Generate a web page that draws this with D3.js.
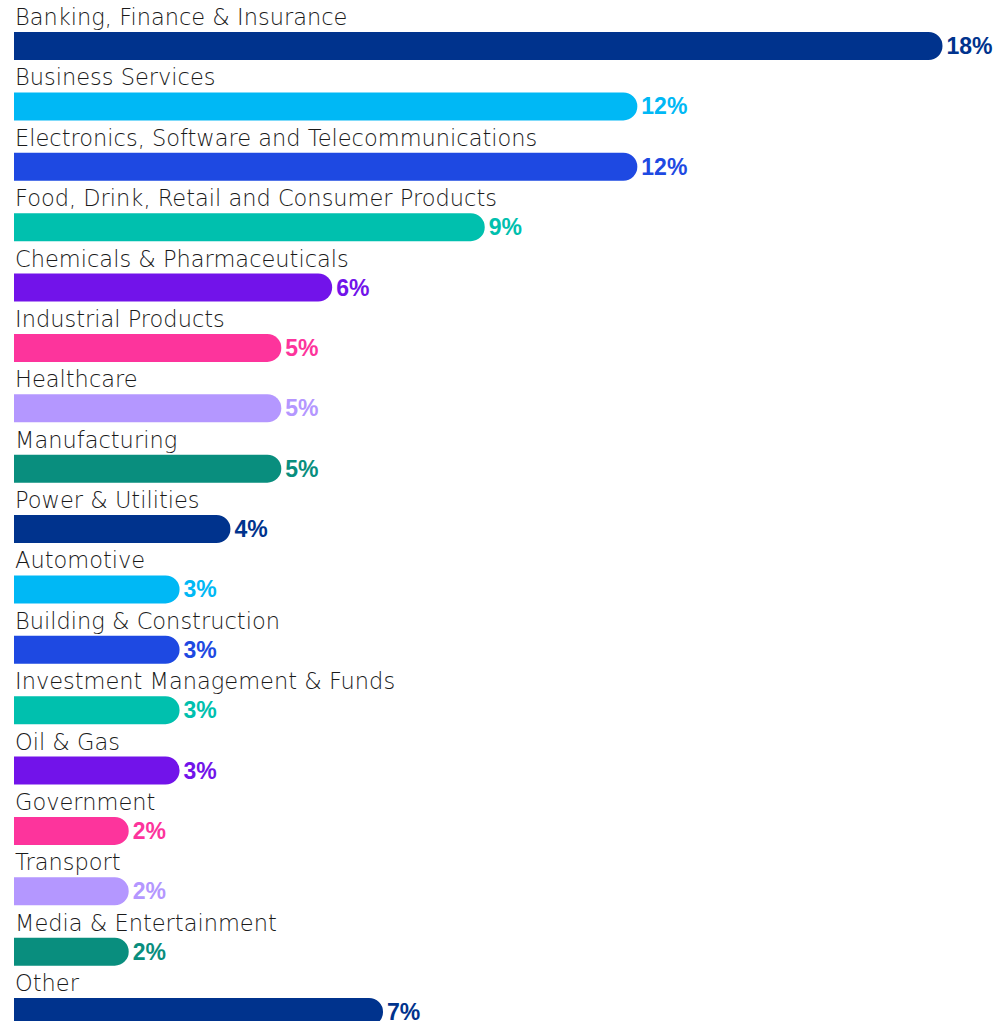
<!DOCTYPE html>
<html><head><meta charset="utf-8">
<script src="https://cdn.jsdelivr.net/npm/d3@7"></script>
<style>html,body{margin:0;padding:0;background:#fff;}svg{display:block;}</style>
</head><body>
<script>
const categories = ["Banking, Finance & Insurance","Business Services","Electronics, Software and Telecommunications","Food, Drink, Retail and Consumer Products","Chemicals & Pharmaceuticals","Industrial Products","Healthcare","Manufacturing","Power & Utilities","Automotive","Building & Construction","Investment Management & Funds","Oil & Gas","Government","Transport","Media & Entertainment","Other"];
const values = [18,12,12,9,6,5,5,5,4,3,3,3,3,2,2,2,7];
const palette = ["#00338D","#00B8F5","#1E49E2","#00C0AE","#7213EA","#FD349C","#B497FF","#098E7E"];

const W = 998, H = 1021;
const left = 14, barH = 28, cap = 13;
const svg = d3.select("body").append("svg").attr("width", W).attr("height", H);

const x = d3.scaleLinear().domain([0, 18]).range([0, 915.5]);
const y = d3.scaleBand().domain(d3.range(categories.length)).range([32, 32 + 60.375 * categories.length]).paddingInner(0).paddingOuter(0);
const color = i => i === categories.length - 1 ? palette[0] : palette[i % palette.length];

const data = categories.map((c, i) => ({c, v: values[i], i}));

function barPath(x0, y0, w, h) {
  const r = h / 2;
  return `M${x0},${y0} H${x0 + w - r} A${r},${r} 0 0 1 ${x0 + w},${y0 + r} A${r},${r} 0 0 1 ${x0 + w - r},${y0 + h} H${x0} Z`;
}

const g = svg.selectAll("g.row").data(data).join("g").attr("class", "row");

g.append("text")
  .attr("x", left + 1)
  .attr("y", d => y(d.i) - 7)
  .attr("font-family", "'DejaVu Sans', 'Liberation Sans', sans-serif")
  .attr("font-weight", 300)
  .attr("font-size", 22.5)
  .attr("fill", "#1a1a1a")
  .text(d => d.c);

g.append("path")
  .attr("d", d => barPath(left, y(d.i), x(d.v) + cap, barH))
  .attr("fill", d => color(d.i));

g.append("text")
  .attr("x", d => left + x(d.v) + cap + 4)
  .attr("y", d => y(d.i) + barH / 2 + 8)
  .attr("font-family", "'Liberation Sans', Arial, sans-serif")
  .attr("font-weight", 700)
  .attr("font-size", 23)
  .attr("fill", d => color(d.i))
  .text(d => d.v + "%");
</script>
</body></html>
